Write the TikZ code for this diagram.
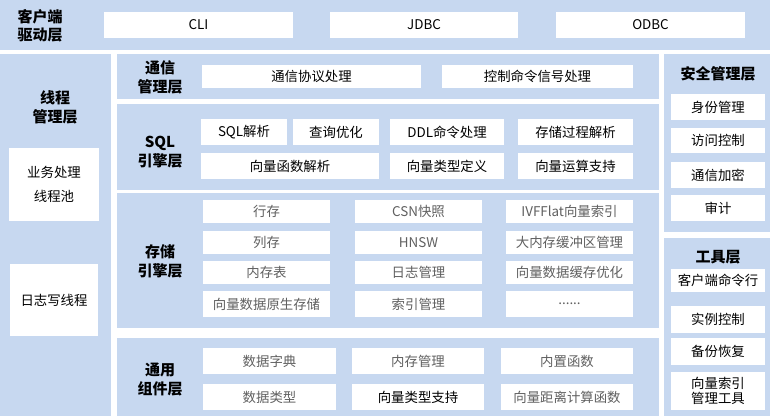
\documentclass[tikz,border=0pt]{standalone}
\usepackage{fontspec}
\setmainfont{Noto Sans CJK SC}
\definecolor{bandblue}{RGB}{199,216,240}
\definecolor{txtgray}{RGB}{96,96,96}
\tikzset{
  band/.style={fill=bandblue,draw=none},
  cell/.style={fill=white,draw=none,inner sep=0pt,outer sep=0pt,align=center,font=\fontsize{13.4}{15}\selectfont},
  cellg/.style={cell,text=txtgray},
  ttl/.style={align=center,font=\fontsize{15}{19}\selectfont\bfseries,inner sep=0pt},
}
\newcommand\bx[7][cell]{%
  \pgfmathsetmacro\bw{#5-#3}\pgfmathsetmacro\bh{#6-#4}%
  \pgfmathsetmacro\bcx{(#3+#5)/2}\pgfmathsetmacro\bcy{(#4+#6)/2}%
  \node[#1,minimum width=\bw pt,minimum height=\bh pt] (#2) at (\bcx,\bcy) {#7};}
\begin{document}
\begin{tikzpicture}[x=1pt,y=-1pt]
\useasboundingbox (0,0) rectangle (770,416);
% bands
\fill[band] (0,0) rectangle (770,50);
\fill[band] (0,54) rectangle (111,416);
\fill[band] (117,54) rectangle (659,99);
\fill[band] (117,104) rectangle (659,190);
\fill[band] (117,193) rectangle (659,328);
\fill[band] (117,338) rectangle (659,416);
\fill[band] (664,54) rectangle (770,232);
\fill[band] (664,238) rectangle (770,416);
% titles
\node[ttl,font=\fontsize{15}{18}\selectfont\bfseries] (tclient) at (40,26) {客户端\\驱动层};
\node[ttl] (tthread) at (55,107) {线程\\管理层};
\node[ttl] (tcomm) at (160,77) {通信\\管理层};
\node[ttl] (tsql) at (160,152) {SQL\\引擎层};
\node[ttl] (tstore) at (160,261) {存储\\引擎层};
\node[ttl] (tcommon) at (160,380) {通用\\组件层};
\node[ttl] (tsec) at (718,74) {安全管理层};
\node[ttl] (ttool) at (718,257) {工具层};
% client
\bx{cli}{104}{12}{293}{38}{CLI}
\bx{jdbc}{330}{12}{518}{38}{JDBC}
\bx{odbc}{556}{12}{745}{38}{ODBC}
% thread
\bx[cell,font=\fontsize{13.4}{24}\selectfont]{pool}{9}{148}{99}{221}{业务处理\\线程池}
\bx{logw}{10}{264}{98}{336}{日志写线程}
% comm
\bx{proto}{202}{65}{421}{88}{通信协议处理}
\bx{ctrl}{442}{65}{633}{88}{控制命令信号处理}
% sql
\bx{sqlp}{201}{119}{287}{145}{SQL解析}
\bx{qopt}{293}{119}{379}{145}{查询优化}
\bx{ddl}{390}{119}{504}{145}{DDL命令处理}
\bx{proc}{518}{119}{633}{145}{存储过程解析}
\bx{vfunc}{201}{153}{379}{179}{向量函数解析}
\bx{vtype}{390}{153}{504}{179}{向量类型定义}
\bx{vop}{518}{153}{633}{179}{向量运算支持}
% storage
\bx[cellg]{row}{203}{200}{330}{223}{行存}
\bx[cellg]{col}{203}{231}{330}{254}{列存}
\bx[cellg]{mem}{203}{261}{330}{284}{内存表}
\bx[cellg]{vnat}{203}{291}{330}{317}{向量数据原生存储}
\bx[cellg]{csn}{355}{200}{482}{223}{CSN快照}
\bx[cellg]{hnsw}{355}{231}{482}{254}{HNSW}
\bx[cellg]{logm}{355}{261}{482}{284}{日志管理}
\bx[cellg]{idxm}{355}{291}{482}{317}{索引管理}
\bx[cellg]{ivf}{506}{200}{633}{223}{IVFFlat向量索引}
\bx[cellg]{buf}{506}{231}{633}{254}{大内存缓冲区管理}
\bx[cellg]{vcache}{506}{261}{633}{284}{向量数据缓存优化}
\bx[cellg]{etc}{506}{291}{633}{317}{......}
% common
\bx[cellg]{dict}{203}{348}{336}{374}{数据字典}
\bx[cellg]{memm}{352}{348}{484}{374}{内存管理}
\bx[cellg]{bfunc}{501}{348}{633}{374}{内置函数}
\bx[cellg]{dtype}{203}{384}{336}{410}{数据类型}
\bx{vsup}{352}{384}{484}{410}{向量类型支持}
\bx[cellg]{vdist}{501}{384}{633}{410}{向量距离计算函数}
% security
\bx{ident}{671}{94}{765}{120}{身份管理}
\bx{acc}{671}{128}{765}{153}{访问控制}
\bx{enc}{671}{162}{765}{188}{通信加密}
\bx{audit}{671}{195}{765}{221}{审计}
% tools
\bx{clicmd}{671}{269}{765}{292}{客户端命令行}
\bx{inst}{671}{306}{765}{333}{实例控制}
\bx{bak}{671}{338}{765}{365}{备份恢复}
\bx{vidx}{671}{372}{765}{410}{向量索引\\管理工具}
\end{tikzpicture}
\end{document}
